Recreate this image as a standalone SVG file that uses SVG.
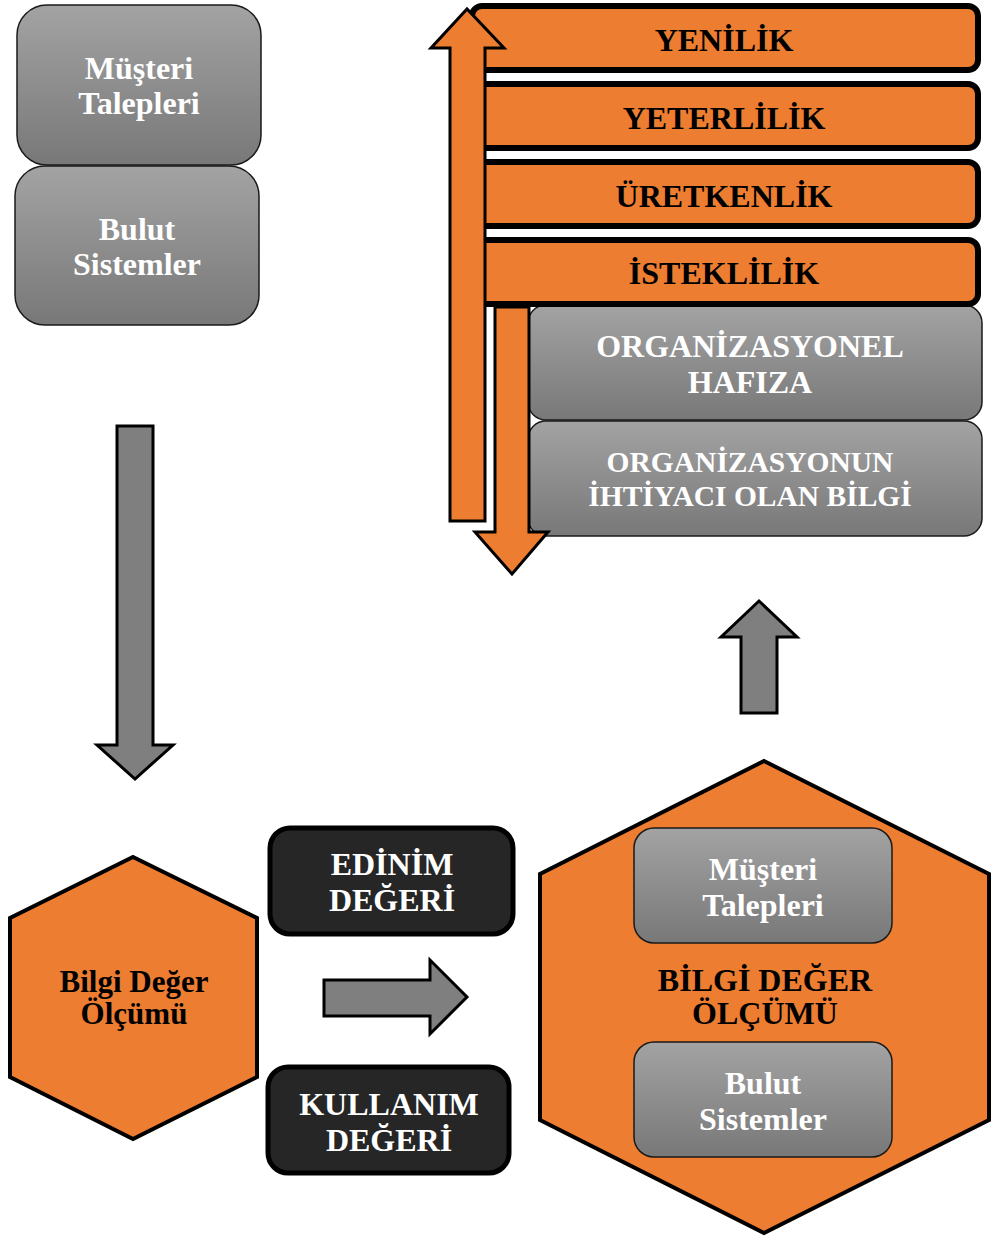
<svg xmlns="http://www.w3.org/2000/svg" width="994" height="1238" viewBox="0 0 994 1238">
<defs>
<linearGradient id="gg" x1="0" y1="0" x2="0" y2="1">
<stop offset="0" stop-color="#a3a3a3"/>
<stop offset="1" stop-color="#787878"/>
</linearGradient>
<style>
.gbox{fill:url(#gg);stroke:#1a1a1a;stroke-width:1.5}
.bar{fill:#ED7D31;stroke:#000;stroke-width:6}
.dbox{fill:#262626;stroke:#000;stroke-width:5}
.hex{fill:#ED7D31;stroke:#000;stroke-width:4}
.garrow{fill:#7f7f7f;stroke:#000;stroke-width:3;stroke-linejoin:miter}
.oarrow{fill:#ED7D31;stroke:#000;stroke-width:3;stroke-linejoin:miter}
text{font-family:"Liberation Serif","Times New Roman",serif;font-weight:bold;font-size:32px;text-anchor:middle}
.w{fill:#fff}
.k{fill:#000}
</style>
</defs>
<rect width="994" height="1238" fill="#fff"/>

<g id="musteri-top">
<rect class="gbox" x="17" y="5" width="244" height="160" rx="30"/>
<text class="w" x="139" y="79">Müşteri</text>
<text class="w" x="139" y="114">Talepleri</text>
</g>
<g id="bulut-top">
<rect class="gbox" x="15" y="166" width="244" height="159" rx="30"/>
<text class="w" x="137" y="240">Bulut</text>
<text class="w" x="137" y="275">Sistemler</text>
</g>

<g id="org-hafiza">
<rect class="gbox" x="528" y="305" width="454" height="115" rx="18"/>
<text class="w" x="750" y="357">ORGANİZASYONEL</text>
<text class="w" x="750" y="393">HAFIZA</text>
</g>
<g id="org-bilgi">
<rect class="gbox" x="528" y="421" width="454" height="115" rx="18"/>
<text class="w" x="750" y="472" style="font-size:29.5px">ORGANİZASYONUN</text>
<text class="w" x="750" y="506" style="font-size:29.5px">İHTİYACI OLAN BİLGİ</text>
</g>

<g id="yenilik">
<rect class="bar" x="472" y="6" width="506" height="64" rx="10"/>
<text class="k" x="724" y="51">YENİLİK</text>
</g>
<g id="yeterlilik">
<rect class="bar" x="472" y="84" width="506" height="64" rx="10"/>
<text class="k" x="724" y="129">YETERLİLİK</text>
</g>
<g id="uretkenlik">
<rect class="bar" x="472" y="162" width="506" height="64" rx="10"/>
<text class="k" x="724" y="207">ÜRETKENLİK</text>
</g>
<g id="isteklilik">
<rect class="bar" x="472" y="240" width="506" height="64" rx="10"/>
<text class="k" x="724" y="284">İSTEKLİLİK</text>
</g>

<g id="bilgi-hex-left">
<polygon class="hex" points="133,857 257,918 257,1077 133,1139 10,1077 10,918"/>
<text class="k" x="134" y="992" style="font-size:31px">Bilgi Değer</text>
<text class="k" x="134" y="1024" style="font-size:31px">Ölçümü</text>
</g>

<g id="edinim">
<rect class="dbox" x="270" y="828" width="243" height="106" rx="20"/>
<text class="w" x="392" y="875">EDİNİM</text>
<text class="w" x="392" y="911">DEĞERİ</text>
</g>
<g id="kullanim">
<rect class="dbox" x="268" y="1067" width="241" height="106" rx="20"/>
<text class="w" x="389" y="1115">KULLANIM</text>
<text class="w" x="389" y="1151">DEĞERİ</text>
</g>

<g id="bilgi-hex-right">
<polygon class="hex" points="764,761 989,874 989,1120 764,1233 540,1120 540,874"/>
<text class="k" x="765" y="991">BİLGİ DEĞER</text>
<text class="k" x="765" y="1024">ÖLÇÜMÜ</text>
</g>
<g id="musteri-inner">
<rect class="gbox" x="634" y="828" width="258" height="115" rx="20"/>
<text class="w" x="763" y="880">Müşteri</text>
<text class="w" x="763" y="916">Talepleri</text>
</g>
<g id="bulut-inner">
<rect class="gbox" x="634" y="1042" width="258" height="115" rx="20"/>
<text class="w" x="763" y="1094">Bulut</text>
<text class="w" x="763" y="1130">Sistemler</text>
</g>

<g id="connectors">
<polygon class="garrow" points="117,426 153,426 153,745 173,745 135,779 97,745 117,745"/>
<polygon class="garrow" points="741,713 777,713 777,637 797,637 759,601 721,637 741,637"/>
<polygon class="garrow" points="324,980 430,980 430,960 467,997 430,1034 430,1016 324,1016"/>
<polygon class="oarrow" points="495,307 529,307 529,532 548,532 512,574 475,532 495,532"/>
<polygon class="oarrow" points="450,521 485,521 485,48 504,48 467,9 431,48 450,48"/>
</g>
</svg>
